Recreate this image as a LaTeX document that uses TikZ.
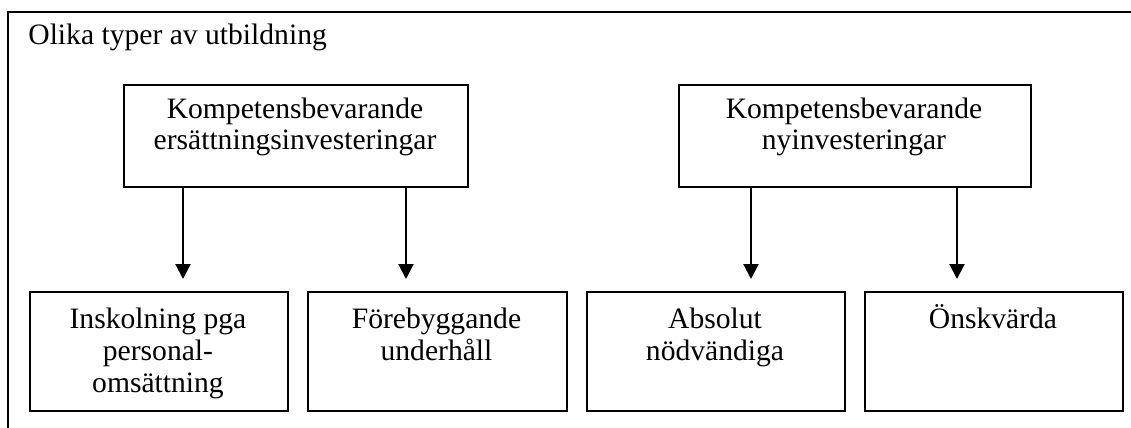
\documentclass[tikz,border=0pt]{standalone}
\usepackage{fontspec}
\setmainfont{Liberation Serif}
\usetikzlibrary{arrows.meta}
\newcommand{\lines}[1]{\begin{tabular}[t]{@{}c@{}}#1\end{tabular}}
\begin{document}
\begin{tikzpicture}[x=0.5pt,y=-0.5pt,
  box/.style={draw,line width=0.85pt,inner sep=0pt,anchor=north west},
  lbl/.style={anchor=base,inner sep=0pt,font=\fontsize{14.8}{16}\selectfont},
  arr/.style={line width=1.1pt,-{Triangle[width=7.5pt,length=7.5pt]},shorten >=6pt}]
\useasboundingbox (0,0) rectangle (1131,428);
% outer frame
\coordinate (fr1) at (1131,12);
\coordinate (fr2) at (8,12);
\coordinate (fr3) at (8,428);
\draw[line width=0.85pt] (fr1) -- (fr2) -- (fr3);
\node[anchor=base west,inner sep=0pt,font=\fontsize{14.8}{16}\selectfont] (title) at (28,45) {Olika typer av utbildning};
% top boxes
\node[box,minimum width=172pt,minimum height=51pt] (t1) at (123,84) {};
\node[box,minimum width=176pt,minimum height=51pt] (t2) at (678,84) {};
\node[lbl] (t1txt) at (295,118) {\lines{Kompetensbevarande\\ersättningsinvesteringar}};
\node[lbl] (t2txt) at (854,118) {\lines{Kompetensbevarande\\nyinvesteringar}};
% bottom boxes
\node[box,minimum width=129pt,minimum height=59.5pt] (b1) at (29,291) {};
\node[box,minimum width=129.5pt,minimum height=59.5pt] (b2) at (307,291) {};
\node[box,minimum width=129pt,minimum height=59.5pt] (b3) at (586,291) {};
\node[box,minimum width=129pt,minimum height=59.5pt] (b4) at (864,291) {};
\node[lbl] (b1txt) at (158,328) {\lines{Inskolning pga\\personal-\\omsättning}};
\node[lbl] (b2txt) at (436.5,328) {\lines{Förebyggande\\underhåll}};
\node[lbl] (b3txt) at (715,328) {\lines{Absolut\\nödvändiga}};
\node[lbl] (b4txt) at (993,328) {\lines{Önskvärda}};
% arrows
\coordinate (x1) at (183,0);
\coordinate (x2) at (406,0);
\coordinate (x3) at (751,0);
\coordinate (x4) at (957,0);
\draw[arr] (t1.south -| x1) -- (b1.north -| x1);
\draw[arr] (t1.south -| x2) -- (b2.north -| x2);
\draw[arr] (t2.south -| x3) -- (b3.north -| x3);
\draw[arr] (t2.south -| x4) -- (b4.north -| x4);
\end{tikzpicture}
\end{document}
